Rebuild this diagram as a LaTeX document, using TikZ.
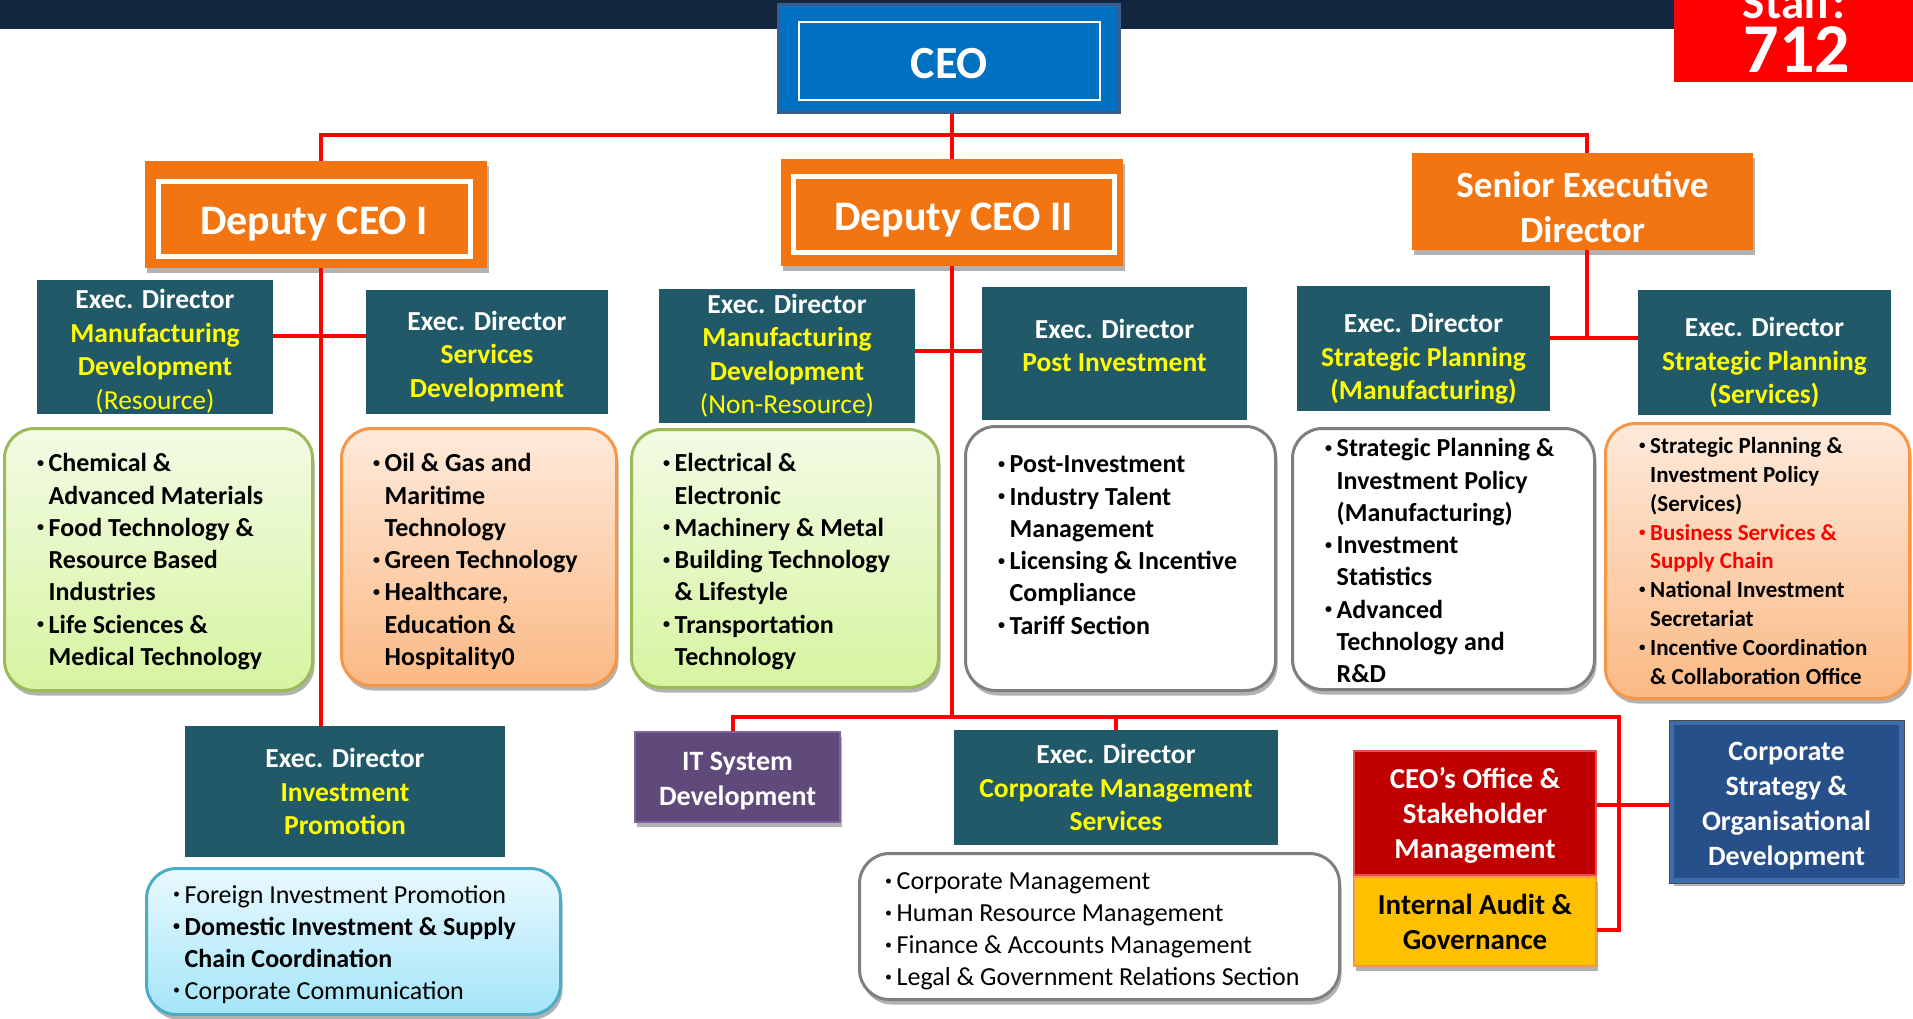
\documentclass[tikz,border=0pt]{standalone}
\usepackage{fontspec}
\setmainfont{Carlito}
\usetikzlibrary{shadows}
\definecolor{navybar}{HTML}{13263F}
\definecolor{ceoblue}{HTML}{0070C0}
\definecolor{ceorim}{HTML}{3A5C88}
\definecolor{deporange}{HTML}{F27511}
\definecolor{edteal}{HTML}{215968}
\definecolor{ylw}{HTML}{FFFF00}
\definecolor{linered}{HTML}{FF0000}
\definecolor{gtop}{HTML}{F3FBE5}
\definecolor{gbot}{HTML}{D6F4A0}
\definecolor{grim}{HTML}{9BBB59}
\definecolor{otop}{HTML}{FDEADB}
\definecolor{obot}{HTML}{FBB984}
\definecolor{orim}{HTML}{F79646}
\definecolor{wrim}{HTML}{7F7F7F}
\definecolor{btop}{HTML}{E9F9FE}
\definecolor{bbot}{HTML}{A3E5F8}
\definecolor{brim}{HTML}{4BACC6}
\definecolor{itpurple}{HTML}{604A7B}
\definecolor{itrim}{HTML}{8064A2}
\definecolor{offred}{HTML}{C00000}
\definecolor{offrim}{HTML}{E85050}
\definecolor{iayellow}{HTML}{FFC000}
\definecolor{csblue}{HTML}{27508A}
\definecolor{csrim}{HTML}{3D6DAA}
\newcommand\bl{\makebox[11.5pt][l]{\raisebox{4.5pt}{\fontsize{14}{14}\selectfont•}}}
\newcommand\cl{\makebox[11.5pt]{}}
\newcommand\bls{\makebox[11pt][l]{\raisebox{4pt}{\fontsize{13}{13}\selectfont•}}}
\newcommand\cls{\makebox[11pt]{}}
\newcommand\frst{\rule{0pt}{24pt}}
\newcommand\frsts{\rule{0pt}{21pt}}
\begin{document}
\begin{tikzpicture}[x=1pt,y=-1pt,
  rl/.style={draw=linered, line width=4.5pt},
  bshadow/.style={drop shadow={shadow xshift=2pt, shadow yshift=-5pt, opacity=0.3, fill=black}},
  edbox/.style={fill=edteal, text=white, align=center, inner sep=0pt,
    font={\fontsize{27.5}{33.5}\selectfont\bfseries}},
  depbox/.style={fill=deporange, inner sep=0pt, bshadow},
  inbox/.style={draw=white, line width=5pt, inner sep=0pt, text=white,
    font={\fontsize{42}{48}\selectfont\bfseries}},
  lbox/.style={rounded corners=30pt, line width=3pt, inner sep=0pt, bshadow},
  lt/.style={anchor=north west, inner sep=0pt, align=left,
    font={\fontsize{26}{32.3}\selectfont\bfseries}},
  ltr/.style={anchor=north west, inner sep=0pt, align=left,
    font={\fontsize{26}{32}\selectfont}},
  wbold/.style={text=white, align=center, inner sep=0pt,
    font={\fontsize{29}{35}\selectfont\bfseries}}
]
\useasboundingbox (0,0) rectangle (1913,1019);
% top bar
\fill[navybar] (0,0) rectangle (1680,29);
% staff box
\node[fill=red, minimum width=241pt, minimum height=88pt, inner sep=0pt] (staff) at (1794.5,38) {};
\node[text=white, anchor=base, inner sep=0pt, font={\fontsize{47}{50}\selectfont\bfseries}] (stafft) at (1794,19) {Staff:};
\node[text=white, anchor=base, inner sep=0pt, font={\fontsize{70}{72}\selectfont\bfseries}] (staffn) at (1797,73) {712};
% CEO
\node[fill=ceoblue, draw=ceorim, line width=3pt, minimum width=341pt, minimum height=108pt, inner sep=0pt] (ceo) at (949,58.5) {};
\node[draw=white, line width=2.5pt, minimum width=301pt, minimum height=78pt, inner sep=0pt, text=white,
  font={\fontsize{46}{50}\selectfont\bfseries}] (ceoin) at (949.5,61) {\rule{0pt}{36pt}CEO};
% Deputies
\node[depbox, minimum width=342pt, minimum height=107pt] (dep1) at (316,214.5) {};
\node[inbox, minimum width=312pt, minimum height=74pt] (dep1in) at (314,219) {\rule{0pt}{38pt}Deputy CEO I};
\node[depbox, minimum width=342pt, minimum height=107pt] (dep2) at (952,212.5) {};
\node[inbox, minimum width=321pt, minimum height=75pt] (dep2in) at (953.5,214.5) {\rule{0pt}{38pt}Deputy CEO II};
\node[depbox, minimum width=341pt, minimum height=97pt, text=white, align=center,
  font={\fontsize{37}{45}\selectfont\bfseries}] (sed) at (1582.5,201.5) {\rule{0pt}{38pt}Senior Executive\\Director};
% Exec directors
\node[edbox, minimum width=236pt, minimum height=134pt] (edR) at (155,347)
  {\rule{0pt}{28pt}Exec. Director\\{\color{ylw}Manufacturing}\\{\color{ylw}Development}\\{\color{ylw}\mdseries (Resource)}};
\node[edbox, minimum width=242pt, minimum height=124pt] (edS) at (487,352)
  {\rule{0pt}{28pt}Exec. Director\\{\color{ylw}Services}\\{\color{ylw}Development}};
\node[edbox, minimum width=256pt, minimum height=134pt] (edN) at (787,356)
  {Exec. Director\\{\color{ylw}Manufacturing}\\{\color{ylw}Development}\\{\color{ylw}\mdseries (Non-Resource)}};
\node[edbox, minimum width=265pt, minimum height=133pt] (edP) at (1114.5,353.5)
  {Exec. Director\\{\color{ylw}Post Investment}\rule[-16pt]{0pt}{1pt}};
\node[edbox, minimum width=253pt, minimum height=125pt] (edSM) at (1423.5,348.5)
  {\rule{0pt}{40pt}Exec. Director\\{\color{ylw}Strategic Planning}\\{\color{ylw}(Manufacturing)}};
\node[edbox, minimum width=253pt, minimum height=125pt] (edSS) at (1764.5,352.5)
  {\rule{0pt}{40pt}Exec. Director\\{\color{ylw}Strategic Planning}\\{\color{ylw}(Services)}};
\node[edbox, minimum width=320pt, minimum height=131pt] (edIP) at (345,791.5)
  {Exec. Director\\{\color{ylw}Investment}\\{\color{ylw}Promotion}};
\node[edbox, minimum width=324pt, minimum height=115pt] (edC) at (1116,787.5)
  {Exec. Director\\{\color{ylw}Corporate Management}\\{\color{ylw}Services}};
% list boxes
\node[lbox, draw=grim, top color=gtop, bottom color=gbot, minimum width=308pt, minimum height=262pt] (g1) at (158.5,559.5) {};
\node[lbox, draw=orim, top color=otop, bottom color=obot, minimum width=275pt, minimum height=257pt] (o1) at (479,557) {};
\node[lbox, draw=grim, top color=gtop, bottom color=gbot, minimum width=307pt, minimum height=258pt] (g2) at (785,558.5) {};
\node[lbox, draw=wrim, fill=white, minimum width=310pt, minimum height=264pt] (w1) at (1120.5,558.5) {};
\node[lbox, draw=wrim, fill=white, minimum width=302pt, minimum height=261pt] (w2) at (1443.5,559) {};
\node[lbox, draw=orim, top color=otop, bottom color=obot, minimum width=304pt, minimum height=275pt] (o2) at (1757.5,561) {};
\node[lbox, draw=brim, top color=btop, bottom color=bbot, minimum width=414pt, minimum height=146pt] (bl) at (353.5,941.5) {};
\node[lbox, draw=wrim, fill=white, minimum width=480pt, minimum height=146pt] (w3) at (1099.5,926.5) {};
% list texts
\node[lt] (g1t) at (37,447.5) {\frst\bl Chemical \&\\ \cl Advanced Materials\\ \bl Food Technology \&\\ \cl Resource Based\\ \cl Industries\\ \bl Life Sciences \&\\ \cl Medical Technology};
\node[lt] (o1t) at (373,447.5) {\frst\bl Oil \& Gas and\\ \cl Maritime\\ \cl Technology\\ \bl Green Technology\\ \bl Healthcare,\\ \cl Education \&\\ \cl Hospitality0};
\node[lt] (g2t) at (663,447.5) {\frst\bl Electrical \&\\ \cl Electronic\\ \bl Machinery \& Metal\\ \bl Building Technology\\ \cl \& Lifestyle\\ \bl Transportation\\ \cl Technology};
\node[lt] (w1t) at (998,448.5) {\frst\bl Post-Investment\\ \bl Industry Talent\\ \cl Management\\ \bl Licensing \& Incentive\\ \cl Compliance\\ \bl Tariff Section};
\node[lt] (w2t) at (1325,432.5) {\frst\bl Strategic Planning \&\\ \cl Investment Policy\\ \cl (Manufacturing)\\ \bl Investment\\ \cl Statistics\\ \bl Advanced\\ \cl Technology and\\ \cl R\&D};
\node[anchor=north west, inner sep=0pt, align=left, font={\fontsize{23}{28.8}\selectfont\bfseries}] (o2t) at (1639,432.5)
  {\frsts\bls Strategic Planning \&\\ \cls Investment Policy\\ \cls (Services)\\
   {\color{red}\bls Business Services \&}\\ {\color{red}\cls Supply Chain}\\
   \bls National Investment\\ \cls Secretariat\\ \bls Incentive Coordination\\ \cls \& Collaboration Office};
\node[ltr] (blt) at (173,879) {\frst\bl Foreign Investment Promotion\\ \textbf{\bl Domestic Investment \& Supply}\\ \textbf{\cl Chain Coordination}\\ \bl Corporate Communication};
\node[ltr] (w3t) at (885,865.5) {\frst\bl Corporate Management\\ \bl Human Resource Management\\ \bl Finance \& Accounts Management\\ \bl Legal \& Government Relations Section};
% bottom boxes
\node[fill=itpurple, draw=itrim, line width=2.5pt, minimum width=205pt, minimum height=90pt, bshadow,
  text=white, align=center, inner sep=0pt, font={\fontsize{28}{35}\selectfont\bfseries}] (it) at (737.5,777) {\rule{0pt}{27pt}IT System\\Development};
\node[wbold, fill=offred, draw=offrim, line width=2pt, minimum width=242pt, minimum height=124pt] (ceoo) at (1475,813) {\rule{0pt}{26pt}CEO’s Office \&\\Stakeholder\\Management};
\node[wbold, text=black, fill=iayellow, draw=orim, line width=2pt, minimum width=242pt, minimum height=89pt, bshadow] (ia) at (1475,921.5) {Internal Audit \&\\Governance};
\node[wbold, fill=csblue, draw=csrim, line width=5pt, minimum width=230pt, minimum height=158pt, bshadow,
  font={\fontsize{28}{35}\selectfont\bfseries}] (cs) at (1786.5,801.5) {\rule{0pt}{28pt}Corporate\\Strategy \&\\Organisational\\Development};
\draw[draw=black!70, line width=1pt] (cs.north west) rectangle (cs.south east);
% connectors
\coordinate (hub) at (952,135);
\coordinate (j1) at (321,336);
\coordinate (j2) at (952,351);
\coordinate (j3) at (952,717);
\coordinate (j4) at (1619,717);
\coordinate (j5) at (1587,338);
\coordinate (j6) at (1619,930);
\draw[rl] (ceo.south -| hub) -- (dep2.north -| hub);
\draw[rl] (dep1.north -| j1) |- (hub) -| (sed.north -| j5);
\draw[rl] (dep1.south -| j1) -- (edIP.north -| j1);
\draw[rl] (edR.east |- j1) -- (edS.west |- j1);
\draw[rl] (dep2.south -| hub) -- (j3);
\draw[rl] (edN.east |- j2) -- (edP.west |- j2);
\draw[rl] ([xshift=-4.5pt]it.north) |- (j4) -- (j6) -- (ia.east |- j6);
\draw[rl] (edC.north) -- (edC.north |- j3);
\draw[rl] ([yshift=8pt]ceoo.east) -- ([yshift=8pt]ceoo.east -| cs.west);
\draw[rl] (sed.south -| j5) -- (j5);
\draw[rl] (edSM.east |- j5) -- (edSS.west |- j5);
\end{tikzpicture}
\end{document}
